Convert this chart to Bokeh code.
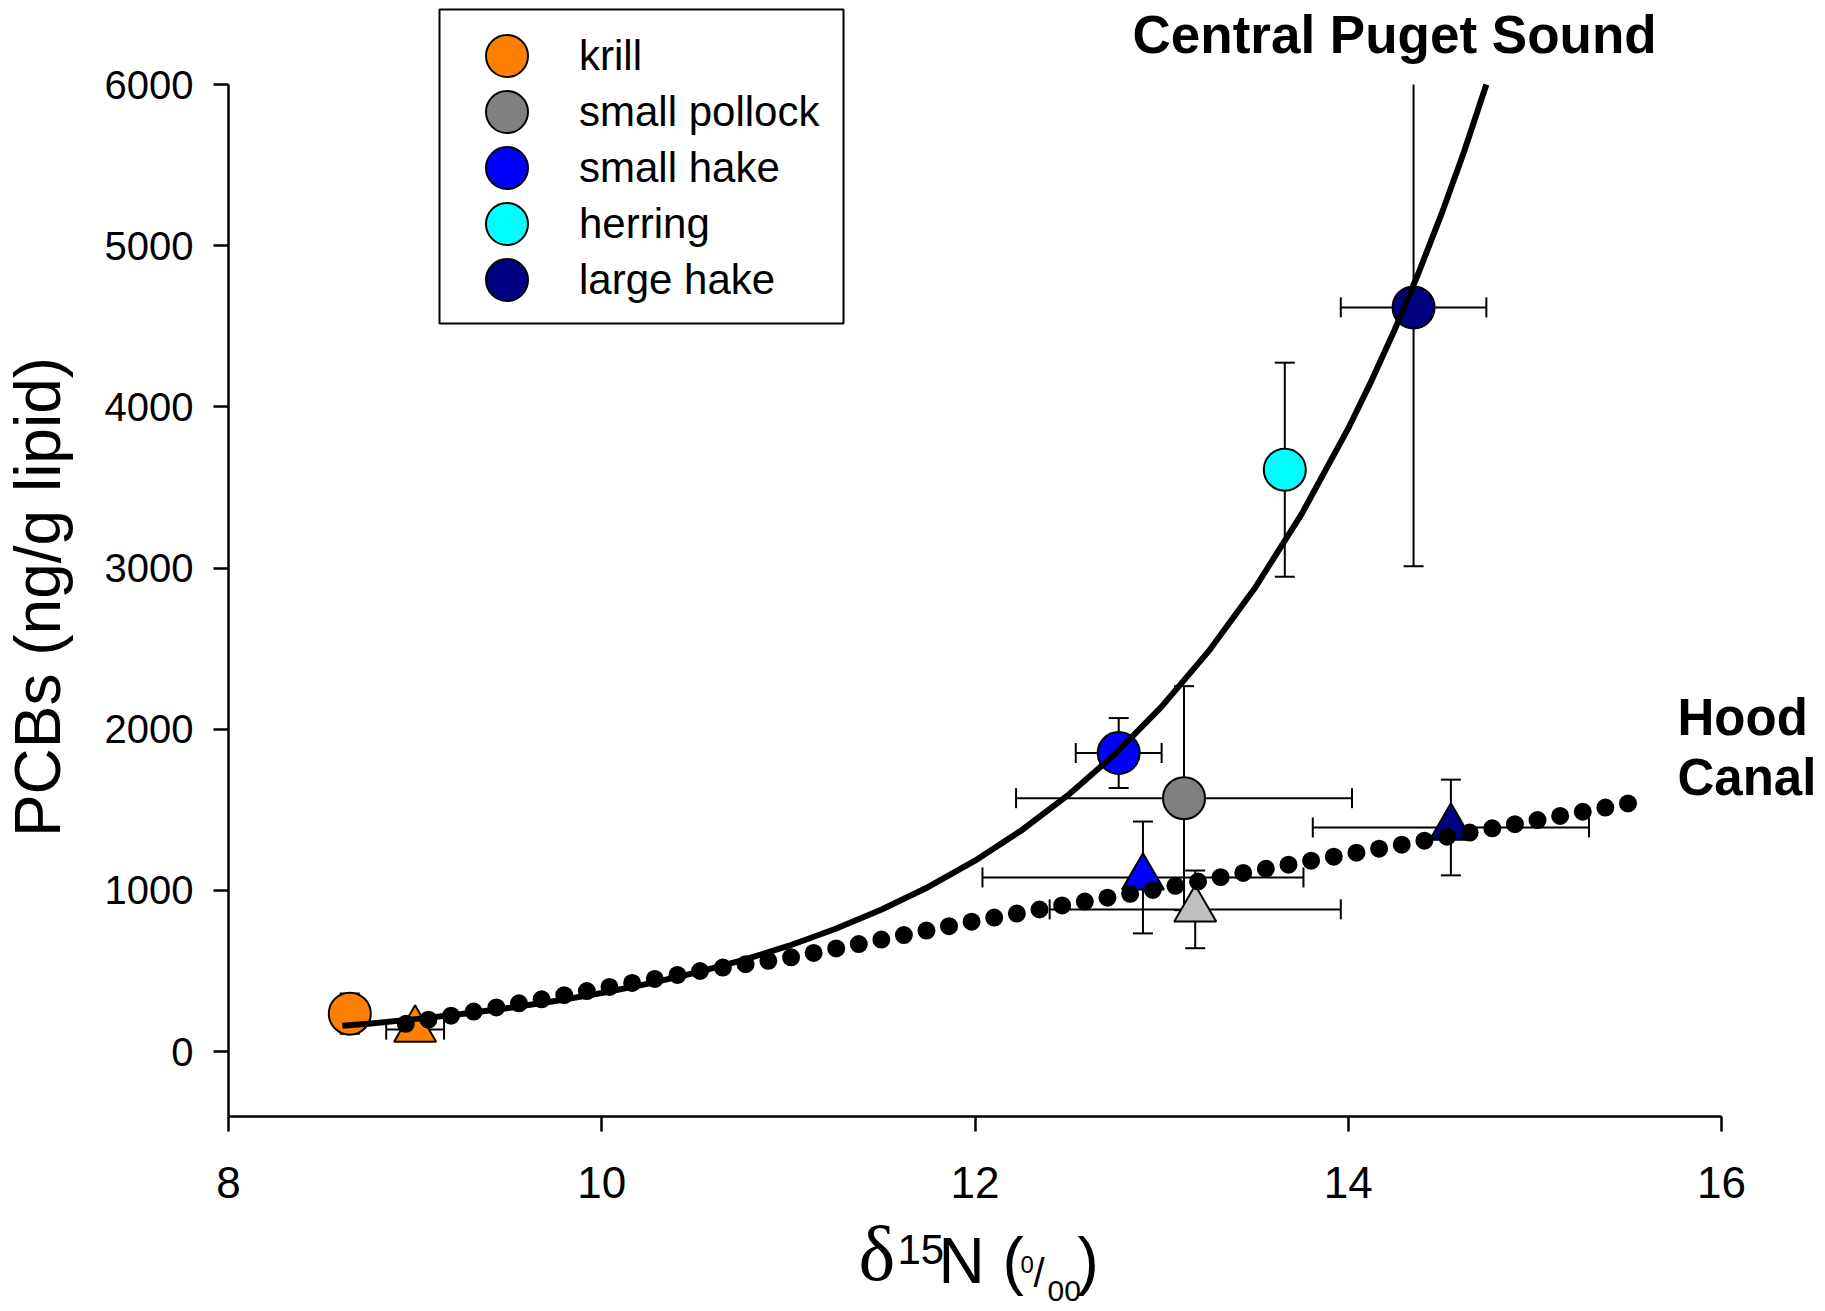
import numpy as np
from bokeh.plotting import figure
from bokeh.models import (ColumnDataSource, Range1d, FixedTicker, Whisker, TeeHead,
                          Legend, LegendItem, Label, BoxAnnotation)
from bokeh.embed import file_html
from bokeh.resources import INLINE

# ---------------- data ----------------
species = ["krill", "small pollock", "small hake", "herring", "large hake"]
cps_colors = ["#FF8000", "#808080", "#0000FF", "#00FFFF", "#000080"]
cps_d15n = [8.65, 13.12, 12.77, 13.66, 14.35]
cps_d15n_err = [0.08, 0.90, 0.23, 0.08, 0.39]
cps_pcb = [235, 1572, 1852, 3610, 4617]
cps_pcb_err = [125, 695, 217, 664, 1606]

hc_species = ["krill", "small pollock", "small hake", "large hake"]
hc_colors = ["#FF8000", "#C0C0C0", "#0000FF", "#000080"]
hc_d15n = [9.00, 13.18, 12.90, 14.55]
hc_d15n_err = [0.155, 0.78, 0.86, 0.74]
hc_pcb = [136, 882, 1080, 1390]
hc_pcb_err = [50, 241, 347, 297]

# regression curves, points
cps_curve_x = [8.61, 8.75, 9.0, 9.25, 9.5, 9.75, 10.0, 10.25, 10.5, 10.75, 11.0,
               11.25, 11.5, 11.75, 12.0, 12.25, 12.5, 12.75, 13.0, 13.25, 13.5,
               13.75, 14.0, 14.125, 14.25, 14.375, 14.5, 14.62, 14.74]
cps_curve_y = [160, 173, 201, 233, 270, 313, 363, 421, 488, 565, 655,
               760, 881, 1021, 1184, 1373, 1592, 1845, 2140, 2481, 2876,
               3334, 3866, 4163, 4482, 4826, 5197, 5581, 6000]
hc_curve_x = [8.95, 9.5, 10.0, 10.5, 11.0, 11.5, 12.0, 12.5, 13.0, 13.5, 14.0,
              14.5, 15.0, 15.53]
hc_curve_y = [172, 287, 392, 495, 581, 695, 810, 913, 1012, 1122, 1225,
              1327, 1433, 1546]

x_ticks = [8, 10, 12, 14, 16]
y_ticks = [0, 1000, 2000, 3000, 4000, 5000, 6000]
X_MIN, X_MAX = 8, 16
Y_MIN, Y_MAX = -400, 6000

FONT = "Liberation Sans"
SERIF = "Liberation Serif"

# ---------------- layout: the frame covers the whole canvas ----------------
W, H = 1822, 1308
X0_PX, X1_PX = 228.0, 1721.0      # pixel columns of x = 8 and x = 16
Y0_PX, Y1_PX = 84.0, 1115.5       # pixel rows of y = 6000 and y = -400
KX = (X1_PX - X0_PX) / (X_MAX - X_MIN)
KY = (Y1_PX - Y0_PX) / (Y_MAX - Y_MIN)

def dx(px):
    return X_MIN + (px - X0_PX) / KX

def dy(py):
    return Y_MAX - (py - Y0_PX) / KY

p = figure(width=W, height=H, output_backend="svg", toolbar_location=None,
           x_range=Range1d(dx(0), dx(W)), y_range=Range1d(dy(H), dy(0)),
           min_border_left=0, min_border_right=0, min_border_top=0,
           min_border_bottom=0)
p.outline_line_color = None
p.grid.visible = False

p.xaxis.bounds = (X_MIN, X_MAX)
p.yaxis.bounds = (Y_MIN, Y_MAX)
p.xaxis.fixed_location = Y_MIN
p.yaxis.fixed_location = X_MIN
p.xaxis.ticker = FixedTicker(ticks=x_ticks)
p.yaxis.ticker = FixedTicker(ticks=y_ticks)
for ax in (p.xaxis, p.yaxis):
    ax.axis_line_width = 2.5
    ax.axis_line_color = "black"
    ax.major_tick_line_width = 2.5
    ax.major_tick_line_color = "black"
    ax.major_tick_out = 15
    ax.major_tick_in = 0
    ax.minor_tick_line_color = None
    ax.major_label_text_font = FONT
    ax.major_label_text_color = "black"
p.xaxis.major_label_text_font_size = "44px"
p.yaxis.major_label_text_font_size = "40px"
p.xaxis.major_label_standoff = 36
p.yaxis.major_label_standoff = 20

# ---------------- error bars ----------------
def add_errorbars(xs, xe, ys, ye):
    xs = np.asarray(xs, float); xe = np.asarray(xe, float)
    ys = np.asarray(ys, float); ye = np.asarray(ye, float)
    hsrc = ColumnDataSource(dict(base=ys, lo=xs - xe, hi=xs + xe))
    p.add_layout(Whisker(base="base", lower="lo", upper="hi", source=hsrc,
                         dimension="width", line_width=2, line_color="black",
                         lower_head=TeeHead(size=20, line_width=2),
                         upper_head=TeeHead(size=20, line_width=2),
                         level="underlay"))
    hi = ys + ye
    clipped = hi > Y_MAX
    for mask, head in ((~clipped, True), (clipped, False)):
        if not mask.any():
            continue
        vsrc = ColumnDataSource(dict(base=xs[mask], lo=ys[mask] - ye[mask],
                                     hi=np.minimum(hi[mask], Y_MAX)))
        p.add_layout(Whisker(base="base", lower="lo", upper="hi", source=vsrc,
                             dimension="height", line_width=2, line_color="black",
                             lower_head=TeeHead(size=20, line_width=2),
                             upper_head=TeeHead(size=20, line_width=2) if head else None,
                             level="underlay"))

add_errorbars(hc_d15n, hc_d15n_err, hc_pcb, hc_pcb_err)
add_errorbars(cps_d15n, cps_d15n_err, cps_pcb, cps_pcb_err)

# ---------------- markers ----------------
hc_src = ColumnDataSource(dict(x=hc_d15n, y=hc_pcb, c=hc_colors, s=hc_species))
p.scatter("x", "y", source=hc_src, marker="triangle", size=42,
          fill_color="c", line_color="black", line_width=2)

cps_src = ColumnDataSource(dict(x=cps_d15n, y=cps_pcb, c=cps_colors, s=species))
cps_r = p.scatter("x", "y", source=cps_src, marker="circle", size=42,
                  fill_color="c", line_color="black", line_width=2)

# ---------------- curves ----------------
p.line(cps_curve_x, cps_curve_y, line_color="black", line_width=6,
       line_join="round")
p.line(hc_curve_x, hc_curve_y, line_color="black", line_width=18,
       line_dash="0 23", line_cap="round")

# ---------------- legend (boxed, one row per species) ----------------
p.add_layout(BoxAnnotation(left=dx(439), right=dx(843), top=dy(9), bottom=dy(323),
                           fill_color="white", fill_alpha=1,
                           line_color="black", line_width=2, line_alpha=1))
row_centers_px = [56, 112, 168, 223.5, 279.5]
GLYPH_BOX = 105   # marker drawn at 0.4 * box -> 42 px, same as the plot markers
for i, s in enumerate(species):
    bottom_px = row_centers_px[i] + GLYPH_BOX / 2
    p.add_layout(Legend(items=[LegendItem(label=s, renderers=[cps_r], index=i)],
                        location=(434, int(round(H - bottom_px))),
                        orientation="vertical",
                        glyph_width=145, glyph_height=GLYPH_BOX, spacing=0,
                        padding=0, margin=0, label_standoff=0,
                        label_text_font_size="42px", label_text_font=FONT,
                        label_text_color="black",
                        border_line_color=None, background_fill_alpha=0))

# ---------------- text labels ----------------
def lab(px, py, text, size, font=FONT, bold=False, **kw):
    p.add_layout(Label(x=dx(px), y=dy(py), text=text, text_font=font,
                       text_font_size=f"{size}px",
                       text_font_style="bold" if bold else "normal",
                       text_color="black", **kw))

lab(1132, 63, "Central Puget Sound", 53, bold=True)
lab(1677, 745, "Hood", 51, bold=True)
lab(1677, 805, "Canal", 51, bold=True)

# y axis title
lab(37.5, 596.5, "PCBs (ng/g lipid)", 64, angle=np.pi / 2,
    text_align="center", text_baseline="middle")

# x axis title  δ15N (0/00)
lab(858, 1296, "δ", 78, font=SERIF)
lab(897, 1263, "15", 42)
lab(938, 1296, "N (", 64)
lab(1020, 1272, "0", 24)
lab(1033, 1294, "/", 40)
lab(1047, 1300, "00", 30)
lab(1077, 1296, ")", 64)

open("out.html", "w").write(file_html(p, INLINE, title="PCBs vs d15N"))
